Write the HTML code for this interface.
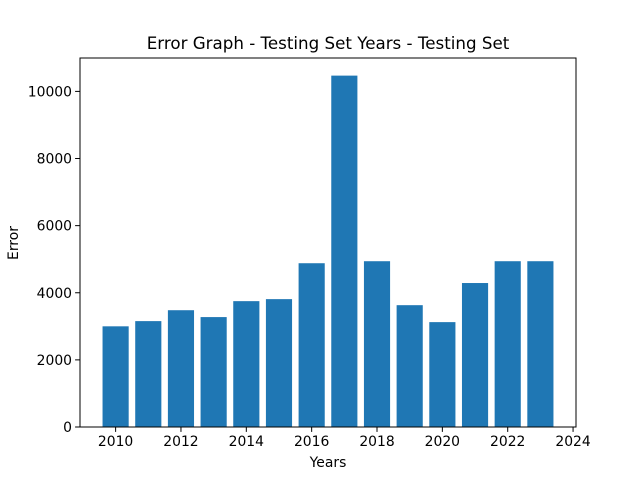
<!DOCTYPE html>
<html><head><meta charset="utf-8"><style>
body{margin:0;background:#fff}
svg{display:block;font-family:"DejaVu Sans","Liberation Sans",sans-serif}
</style></head><body>
<svg id="chart" width="640" height="480">
<rect width="640" height="480" fill="#fff"/>
<text x="328" y="49" font-size="16.7" text-anchor="middle">Error Graph - Testing Set Years - Testing Set</text>
<g id="bars"></g>
<g id="xticks"></g>
<g id="yticks"></g>
<rect x="80" y="58" width="496" height="369" fill="none" stroke="#000" stroke-width="1"/>
<text x="328" y="467" font-size="13.9" text-anchor="middle">Years</text>
<text x="18" y="243" font-size="13.9" text-anchor="middle" transform="rotate(-90 18 243)">Error</text>
</svg>
<script>
const years=[2010,2011,2012,2013,2014,2015,2016,2017,2018,2019,2020,2021,2022,2023];
const errors=[3000,3155,3480,3275,3750,3810,4880,10470,4940,3630,3125,4290,4940,4940];
const xTicks=[2010,2012,2014,2016,2018,2020,2022,2024];
const yTicks=[0,2000,4000,6000,8000,10000];
const NS="http://www.w3.org/2000/svg";
const L=80,R=576,T=58,B=427;
const xmin=2008.91,xmax=2024.09,ymin=0,ymax=10995;
const xs=v=>L+(v-xmin)/(xmax-xmin)*(R-L);
const ys=v=>B-(v-ymin)/(ymax-ymin)*(B-T);
const bars=document.getElementById('bars');
years.forEach((y,i)=>{
 const r=document.createElementNS(NS,'rect');
 const x0=xs(y-0.4),x1=xs(y+0.4);
 r.setAttribute('x',x0);r.setAttribute('width',x1-x0);
 r.setAttribute('y',ys(errors[i]));r.setAttribute('height',B-ys(errors[i]));
 r.setAttribute('fill','#1f77b4');
 
 
 bars.appendChild(r);
});
const xg=document.getElementById('xticks');
xTicks.forEach(t=>{
 const x=xs(t);
 const l=document.createElementNS(NS,'line');
 l.setAttribute('x1',x);l.setAttribute('x2',x);l.setAttribute('y1',B);l.setAttribute('y2',B+4.9);l.setAttribute('stroke','#000');
 
 
 xg.appendChild(l);
 const tx=document.createElementNS(NS,'text');
 tx.setAttribute('x',x);tx.setAttribute('y',B+19);tx.setAttribute('font-size','13.9');tx.setAttribute('text-anchor','middle');
 tx.textContent=t;
 
 
 xg.appendChild(tx);
});
const yg=document.getElementById('yticks');
yTicks.forEach(t=>{
 const y=ys(t);
 const l=document.createElementNS(NS,'line');
 l.setAttribute('x1',L-4.9);l.setAttribute('x2',L);l.setAttribute('y1',y);l.setAttribute('y2',y);l.setAttribute('stroke','#000');
 
 
 yg.appendChild(l);
 const tx=document.createElementNS(NS,'text');
 tx.setAttribute('x',L-8);tx.setAttribute('y',y+5);tx.setAttribute('font-size','13.9');tx.setAttribute('text-anchor','end');
 tx.textContent=t;
 
 
 yg.appendChild(tx);
});
</script>
</body></html>
